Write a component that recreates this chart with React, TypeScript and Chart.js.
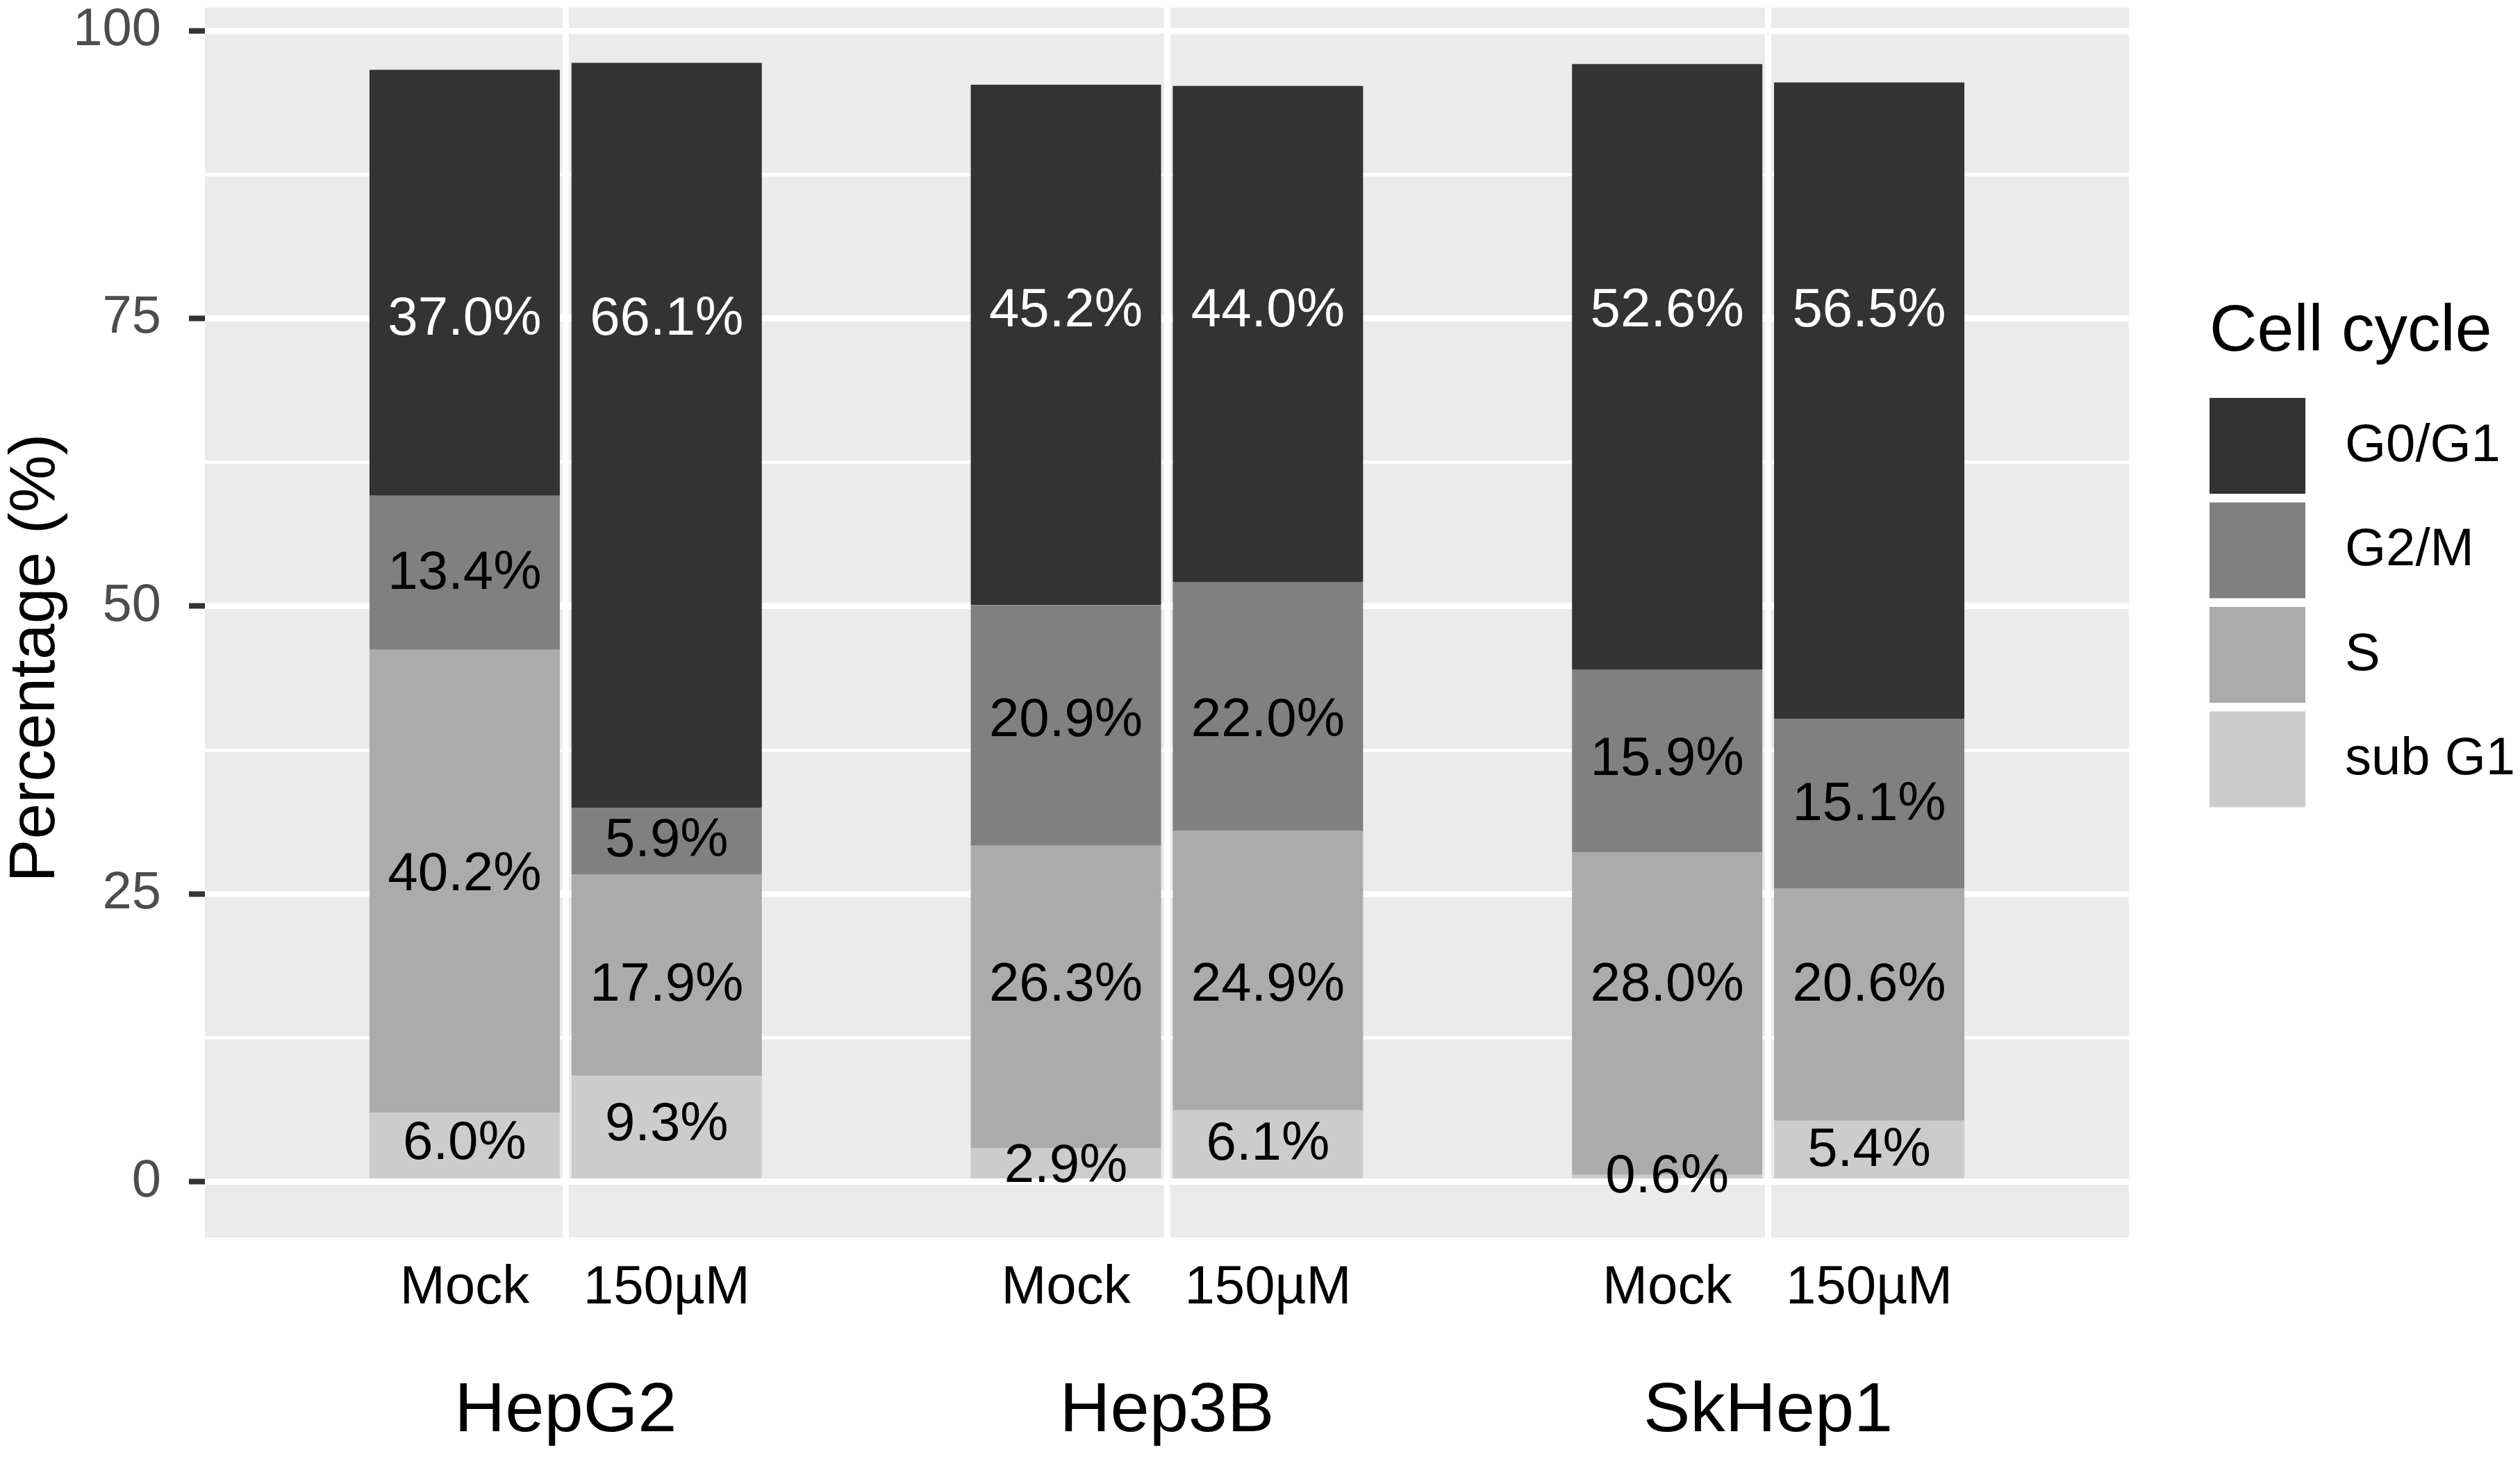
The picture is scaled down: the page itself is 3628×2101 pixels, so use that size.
import React, { useEffect, useRef } from 'react';
import { Chart, registerables } from 'chart.js';

Chart.register(...registerables);

const WIDTH = 3628;
const HEIGHT = 2101;
const FONT = '"Liberation Sans", Arial, Helvetica, sans-serif';

const cellLines = ['HepG2', 'Hep3B', 'SkHep1'];
const treatments = ['Mock', '150µM'];
// stacked from the bottom up
const phases = ['sub G1', 'S', 'G2/M', 'G0/G1'];
const phaseColors = ['#CCCCCC', '#ABABAB', '#808080', '#333333'];

// segment heights (%), one value per cell line
const mockSubG1 = [6.0, 2.9, 0.6];
const mockS = [40.2, 26.3, 28.0];
const mockG2M = [13.4, 20.9, 15.9];
const mockG0G1 = [37.0, 45.2, 52.6];

const treatedSubG1 = [9.2, 6.2, 5.3];
const treatedS = [17.5, 24.3, 20.2];
const treatedG2M = [5.8, 21.6, 14.7];
const treatedG0G1 = [64.7, 43.1, 55.3];

// numbers printed on the 150µM bars
const treatedSubG1Label = [9.3, 6.1, 5.4];
const treatedSLabel = [17.9, 24.9, 20.6];
const treatedG2MLabel = [5.9, 22.0, 15.1];
const treatedG0G1Label = [66.1, 44.0, 56.5];

// where the printed numbers sit (% on the y axis)
const mockSubG1At = [3.25, 1.27, 0.36];
const mockSAt = [26.6, 17.0, 17.0];
const mockG2MAt = [52.8, 40.0, 36.6];
const mockG0G1At = [74.9, 75.6, 75.6];

const treatedSubG1At = [4.9, 3.2, 2.65];
const treatedSAt = [17.0, 17.0, 17.0];
const treatedG2MAt = [29.6, 40.0, 32.7];
const treatedG0G1At = [74.9, 75.6, 75.6];

const yMajor = [0, 25, 50, 75, 100];
const yMinor = [12.5, 37.5, 62.5, 87.5];

const values = [
    [mockSubG1, mockS, mockG2M, mockG0G1],
    [treatedSubG1, treatedS, treatedG2M, treatedG0G1],
];
const printed = [
    [mockSubG1, mockS, mockG2M, mockG0G1],
    [treatedSubG1Label, treatedSLabel, treatedG2MLabel, treatedG0G1Label],
];
const anchors = [
    [mockSubG1At, mockSAt, mockG2MAt, mockG0G1At],
    [treatedSubG1At, treatedSAt, treatedG2MAt, treatedG0G1At],
];

const font = (size: number) => `${size}px ${FONT}`;

const ggPlugin = {
    id: 'ggDecor',
    beforeDraw(chart: any) {
        const { ctx, chartArea: a } = chart;
        ctx.save();
        ctx.fillStyle = '#FFFFFF';
        ctx.fillRect(0, 0, chart.width, chart.height);
        ctx.fillStyle = '#EBEBEB';
        ctx.fillRect(a.left, a.top, a.right - a.left, a.bottom - a.top);
        ctx.restore();
    },
    afterDatasetsDraw(chart: any) {
        const { ctx } = chart;
        const yScale = chart.scales.y;
        ctx.save();
        ctx.font = font(78);
        ctx.textAlign = 'center';
        ctx.textBaseline = 'middle';
        chart.data.datasets.forEach((ds: any, di: number) => {
            const t = ds.treatmentIndex;
            const p = ds.phaseIndex;
            const meta = chart.getDatasetMeta(di);
            meta.data.forEach((bar: any, ci: number) => {
                ctx.fillStyle = p === 3 ? '#FFFFFF' : '#000000';
                const txt = printed[t][p][ci].toFixed(1) + '%';
                ctx.fillText(txt, bar.x, yScale.getPixelForValue(anchors[t][p][ci]));
            });
        });
        ctx.restore();
    },
    afterDraw(chart: any) {
        const { ctx, chartArea: a } = chart;
        ctx.save();

        // treatment names under each bar
        ctx.font = font(78);
        ctx.fillStyle = '#000000';
        ctx.textAlign = 'center';
        ctx.textBaseline = 'alphabetic';
        chart.data.datasets.forEach((ds: any, di: number) => {
            if (ds.phaseIndex !== 0) return;
            chart.getDatasetMeta(di).data.forEach((bar: any) => {
                ctx.fillText(treatments[ds.treatmentIndex], bar.x, a.bottom + 95);
            });
        });

        // y axis title
        ctx.save();
        ctx.translate(a.left - 217, (a.top + a.bottom) / 2 + 51);
        ctx.rotate(-Math.PI / 2);
        ctx.font = font(93);
        ctx.textAlign = 'center';
        ctx.fillText('Percentage (%)', 0, 0);
        ctx.restore();

        // legend
        const lx = a.right + 116;
        ctx.textAlign = 'left';
        ctx.font = font(95);
        ctx.fillText('Cell cycle', lx, a.top + 494);
        ctx.font = font(76);
        ctx.textBaseline = 'middle';
        const order = [3, 2, 1, 0];
        order.forEach((p, i) => {
            const ky = a.top + 562 + i * 150.5;
            ctx.fillStyle = phaseColors[p];
            ctx.fillRect(lx, ky, 138, 138);
            ctx.fillStyle = '#000000';
            ctx.fillText(phases[p], lx + 195, ky + 70);
        });

        ctx.restore();
    },
};

const CellCycleChart: React.FC = () => {
    const chartRef = useRef<HTMLCanvasElement | null>(null);

    useEffect(() => {
        document.body.style.margin = '0';
        if (!chartRef.current) return;

        const datasets: any[] = [];
        treatments.forEach((t, ti) => {
            phases.forEach((p, pi) => {
                datasets.push({
                    label: p,
                    stack: t,
                    treatmentIndex: ti,
                    phaseIndex: pi,
                    data: values[ti][pi].map((v, ci) => ({ x: ci + 1, y: v })),
                    backgroundColor: phaseColors[pi],
                    borderWidth: 0,
                    categoryPercentage: 0.672,
                    barPercentage: 0.942,
                });
            });
        });

        const myChart = new Chart(chartRef.current, {
            type: 'bar',
            data: { datasets },
            plugins: [ggPlugin],
            options: {
                responsive: false,
                animation: false,
                devicePixelRatio: 1,
                layout: { padding: { top: 11, right: 563, bottom: 0, left: 0 } },
                font: { family: FONT },
                plugins: {
                    legend: { display: false },
                    tooltip: { enabled: false },
                    title: { display: false },
                },
                scales: {
                    x: {
                        type: 'linear',
                        min: 0.4,
                        max: 3.6,
                        stacked: true,
                        offset: false,
                        afterBuildTicks: (axis: any) => {
                            axis.ticks = cellLines.map((_, i) => ({ value: i + 1 }));
                        },
                        afterFit: (axis: any) => {
                            axis.height = HEIGHT - 1782;
                            axis.paddingLeft = 0;
                            axis.paddingRight = 0;
                        },
                        ticks: {
                            callback: (v: any) => cellLines[Math.round(Number(v)) - 1] ?? '',
                            font: { size: 101, family: FONT },
                            color: '#000000',
                            padding: 191,
                            autoSkip: false,
                            maxRotation: 0,
                        },
                        grid: { color: '#FFFFFF', lineWidth: 9, drawTicks: false, offset: false },
                        border: { display: false },
                    },
                    y: {
                        min: -4.85,
                        max: 102,
                        stacked: true,
                        afterBuildTicks: (axis: any) => {
                            axis.ticks = [...yMajor, ...yMinor].sort((a, b) => a - b).map((v) => ({ value: v }));
                        },
                        afterFit: (axis: any) => {
                            axis.width = 295;
                            axis.paddingTop = 0;
                            axis.paddingBottom = 0;
                        },
                        ticks: {
                            callback: (v: any) => (yMajor.includes(Number(v)) ? String(v) : ''),
                            font: { size: 76, family: FONT },
                            color: '#4D4D4D',
                            padding: 40,
                            autoSkip: false,
                        },
                        grid: {
                            color: '#FFFFFF',
                            lineWidth: (c: any) => (yMajor.includes(c.tick?.value) ? 9 : 5),
                            tickColor: (c: any) => (yMajor.includes(c.tick?.value) ? '#333333' : 'rgba(0,0,0,0)'),
                            tickLength: 23,
                            tickWidth: 8,
                        },
                        border: { display: false },
                    },
                },
            } as any,
        });

        return () => {
            myChart.destroy();
        };
    }, []);

    return (
        <div style={{ position: 'fixed', left: 0, top: 0, width: WIDTH, height: HEIGHT }}>
            <canvas ref={chartRef} width={WIDTH} height={HEIGHT} style={{ display: 'block' }} />
        </div>
    );
};

export default function App() {
    return <CellCycleChart />;
}
